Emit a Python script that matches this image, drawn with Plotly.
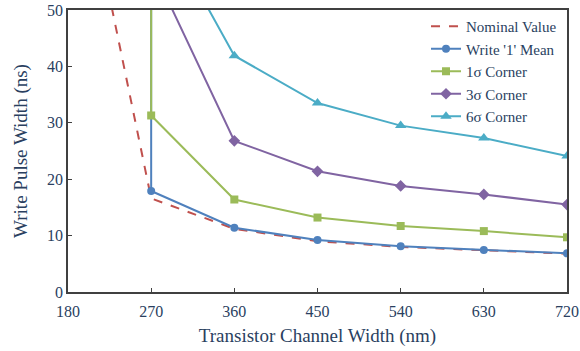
import plotly.graph_objects as go

x_nom = [180, 270, 360, 450, 540, 630, 720]
y_nom = [88, 16.6, 11.2, 9.0, 8.0, 7.4, 6.8]

x_pts = [270, 270, 360, 450, 540, 630, 720]
y_mean = [100, 17.9, 11.4, 9.2, 8.1, 7.45, 6.85]
y_1s = [100, 31.3, 16.4, 13.2, 11.7, 10.8, 9.7]

x_sig = [270, 360, 450, 540, 630, 720]
y_3s = [58, 26.8, 21.4, 18.8, 17.3, 15.5]
y_6s = [68.5, 41.9, 33.5, 29.5, 27.3, 24.1]

names = ["Nominal Value", "Write '1' Mean", "1σ Corner", "3σ Corner", "6σ Corner"]
x_ticks = [180, 270, 360, 450, 540, 630, 720]
y_ticks = [0, 10, 20, 30, 40, 50]

FONT = "Liberation Serif"

fig = go.Figure()
fig.add_trace(go.Scatter(x=x_nom, y=y_nom, mode="lines", name=names[0],
                         line=dict(color="#C0504D", width=2, dash="dash")))
fig.add_trace(go.Scatter(x=x_pts, y=y_mean, mode="lines+markers", name=names[1],
                         line=dict(color="#4F81BD", width=2),
                         marker=dict(symbol="circle", size=8, color="#4F81BD")))
fig.add_trace(go.Scatter(x=x_pts, y=y_1s, mode="lines+markers", name=names[2],
                         line=dict(color="#9BBB59", width=2),
                         marker=dict(symbol="square", size=8, color="#9BBB59")))
fig.add_trace(go.Scatter(x=x_sig, y=y_3s, mode="lines+markers", name=names[3],
                         line=dict(color="#8064A2", width=2),
                         marker=dict(symbol="diamond", size=9, color="#8064A2")))
fig.add_trace(go.Scatter(x=x_sig, y=y_6s, mode="lines+markers", name=names[4],
                         line=dict(color="#4BACC6", width=2),
                         marker=dict(symbol="triangle-up", size=10, color="#4BACC6")))

axis_common = dict(showgrid=False, zeroline=False, showline=True, linecolor="#404040",
                   linewidth=1.5, mirror=True, ticks="inside", ticklen=4,
                   tickcolor="#404040", ticklabeloverflow="allow", automargin=False,
                   tickfont=dict(family=FONT, size=16))

fig.update_xaxes(range=[180, 720], tickvals=x_ticks, ticktext=[str(v) for v in x_ticks],
                 title=dict(text="Transistor Channel Width (nm)",
                            font=dict(family=FONT, size=19), standoff=10),
                 ticklabelstandoff=4,
                 **axis_common)
fig.update_yaxes(range=[0, 50], tickvals=y_ticks, ticktext=[str(v) for v in y_ticks],
                 title=dict(text="Write Pulse Width (ns)",
                            font=dict(family=FONT, size=19), standoff=14),
                 **axis_common)

fig.update_layout(
    width=580, height=351,
    margin=dict(l=68, r=13, t=10, b=59),
    plot_bgcolor="white", paper_bgcolor="white",
    showlegend=True,
    legend=dict(x=0.99, y=1.0, xanchor="right", yanchor="top",
                bgcolor="rgba(255,255,255,0)", borderwidth=0,
                font=dict(family=FONT, size=15),
                tracegroupgap=0, itemwidth=30),
)

fig.write_html("out.html")
